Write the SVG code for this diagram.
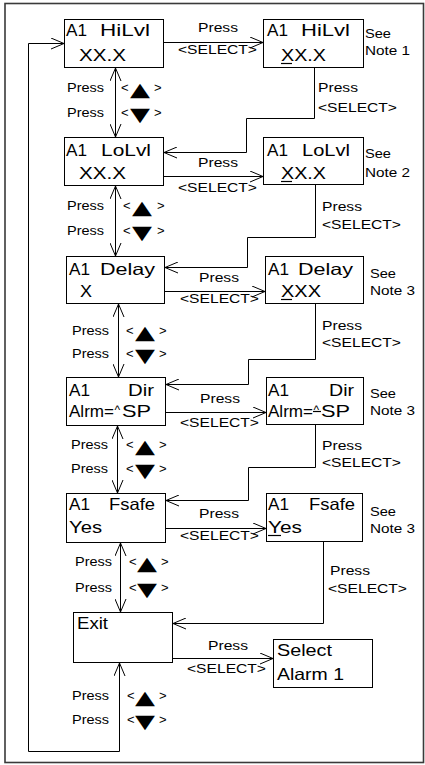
<svg xmlns="http://www.w3.org/2000/svg" width="425" height="765" viewBox="0 0 425 765">
<style>
.b{fill:#fff;stroke:#000;stroke-width:1}
.t{font-family:"Liberation Sans",Arial,sans-serif;font-size:16.5px;fill:#000}
.l{font-family:"Liberation Sans",Arial,sans-serif;font-size:13px;fill:#000}
.k{font-family:"Liberation Sans",Arial,sans-serif;font-size:12px;fill:#000}
.tri{font-family:"DejaVu Sans",sans-serif;font-size:19px;fill:#000}
.c{fill:none;stroke:#000;stroke-width:1}
.u{stroke:#000;stroke-width:1.2}
</style>
<defs>
<marker id="a" viewBox="0 0 13 12" refX="13" refY="6" markerWidth="13" markerHeight="12" orient="auto-start-reverse" markerUnits="userSpaceOnUse"><path d="M0,0.5 L13,6 L0,11.5" fill="none" stroke="#000" stroke-width="1"/></marker>
</defs>
<rect x="5" y="3.5" width="418.5" height="759" fill="#fff" stroke="#3a3a3a" stroke-width="1.6"/>

<g id="connectors">
<path class="c" d="M163.5,42.5 H263" marker-end="url(#a)"/>
<path class="c" d="M163.5,176.5 H263" marker-end="url(#a)"/>
<path class="c" d="M164.5,291.5 H265" marker-end="url(#a)"/>
<path class="c" d="M165.5,412.5 H266" marker-end="url(#a)"/>
<path class="c" d="M165.5,528.5 H266" marker-end="url(#a)"/>
<path class="c" d="M172.5,658.5 H273" marker-end="url(#a)"/>
<path class="c" d="M115.5,68 V137" marker-start="url(#a)" marker-end="url(#a)"/>
<path class="c" d="M115.5,186 V256" marker-start="url(#a)" marker-end="url(#a)"/>
<path class="c" d="M118.5,304 V377" marker-start="url(#a)" marker-end="url(#a)"/>
<path class="c" d="M117.5,426 V493" marker-start="url(#a)" marker-end="url(#a)"/>
<path class="c" d="M120.5,543 V612" marker-start="url(#a)" marker-end="url(#a)"/>
<path class="c" d="M314.5,67.5 V118.5 H246.5 V152.5 H164" marker-end="url(#a)"/>
<path class="c" d="M315.5,184.5 V237.5 H247.5 V267.5 H165" marker-end="url(#a)"/>
<path class="c" d="M315.5,303.5 V359.5 H248.5 V384.5 H166" marker-end="url(#a)"/>
<path class="c" d="M315.5,424.5 V467.5 H248.5 V500.5 H166" marker-end="url(#a)"/>
<path class="c" d="M323.5,541.5 V623.5 H173" marker-end="url(#a)"/>
<path class="c" d="M119.5,663 V751.5 H28.5 V43.5 H64" marker-start="url(#a)" marker-end="url(#a)"/>
</g>

<g id="labels">
<text class="l" x="198" y="32" textLength="40" lengthAdjust="spacingAndGlyphs">Press</text>
<text class="l" x="178" y="54" textLength="79" lengthAdjust="spacingAndGlyphs">&lt;SELECT&gt;</text>
<text class="l" x="198" y="167" textLength="40" lengthAdjust="spacingAndGlyphs">Press</text>
<text class="l" x="178" y="192" textLength="79" lengthAdjust="spacingAndGlyphs">&lt;SELECT&gt;</text>
<text class="l" x="199" y="282" textLength="40" lengthAdjust="spacingAndGlyphs">Press</text>
<text class="l" x="180" y="303" textLength="79" lengthAdjust="spacingAndGlyphs">&lt;SELECT&gt;</text>
<text class="l" x="200" y="403" textLength="40" lengthAdjust="spacingAndGlyphs">Press</text>
<text class="l" x="180" y="427" textLength="79" lengthAdjust="spacingAndGlyphs">&lt;SELECT&gt;</text>
<text class="l" x="199" y="518" textLength="40" lengthAdjust="spacingAndGlyphs">Press</text>
<text class="l" x="180" y="540" textLength="79" lengthAdjust="spacingAndGlyphs">&lt;SELECT&gt;</text>
<text class="l" x="208" y="650" textLength="40" lengthAdjust="spacingAndGlyphs">Press</text>
<text class="l" x="187" y="673" textLength="79" lengthAdjust="spacingAndGlyphs">&lt;SELECT&gt;</text>

<text class="l" x="318" y="92" textLength="40" lengthAdjust="spacingAndGlyphs">Press</text>
<text class="l" x="318" y="112" textLength="79" lengthAdjust="spacingAndGlyphs">&lt;SELECT&gt;</text>
<text class="l" x="322" y="211" textLength="40" lengthAdjust="spacingAndGlyphs">Press</text>
<text class="l" x="322" y="229" textLength="79" lengthAdjust="spacingAndGlyphs">&lt;SELECT&gt;</text>
<text class="l" x="322" y="330" textLength="40" lengthAdjust="spacingAndGlyphs">Press</text>
<text class="l" x="322" y="347" textLength="79" lengthAdjust="spacingAndGlyphs">&lt;SELECT&gt;</text>
<text class="l" x="322" y="450" textLength="40" lengthAdjust="spacingAndGlyphs">Press</text>
<text class="l" x="322" y="467" textLength="79" lengthAdjust="spacingAndGlyphs">&lt;SELECT&gt;</text>
<text class="l" x="330" y="575" textLength="40" lengthAdjust="spacingAndGlyphs">Press</text>
<text class="l" x="328" y="593" textLength="79" lengthAdjust="spacingAndGlyphs">&lt;SELECT&gt;</text>

<text class="l" x="365" y="38" textLength="26" lengthAdjust="spacingAndGlyphs">See</text>
<text class="l" x="365" y="55" textLength="45" lengthAdjust="spacingAndGlyphs">Note 1</text>
<text class="l" x="365" y="158" textLength="26" lengthAdjust="spacingAndGlyphs">See</text>
<text class="l" x="365" y="177" textLength="45" lengthAdjust="spacingAndGlyphs">Note 2</text>
<text class="l" x="370" y="278" textLength="26" lengthAdjust="spacingAndGlyphs">See</text>
<text class="l" x="370" y="295" textLength="45" lengthAdjust="spacingAndGlyphs">Note 3</text>
<text class="l" x="370" y="398" textLength="26" lengthAdjust="spacingAndGlyphs">See</text>
<text class="l" x="370" y="415" textLength="45" lengthAdjust="spacingAndGlyphs">Note 3</text>
<text class="l" x="370" y="516" textLength="26" lengthAdjust="spacingAndGlyphs">See</text>
<text class="l" x="370" y="533" textLength="45" lengthAdjust="spacingAndGlyphs">Note 3</text>

<text class="l" x="67" y="92" textLength="37" lengthAdjust="spacingAndGlyphs">Press</text>
<text class="l" x="67" y="117" textLength="37" lengthAdjust="spacingAndGlyphs">Press</text>
<text class="l" x="121" y="92">&lt;</text><text class="tri" x="130" y="96" textLength="20" lengthAdjust="spacingAndGlyphs">▲</text><text class="l" x="154" y="92">&gt;</text>
<text class="l" x="121" y="117">&lt;</text><text class="tri" x="130" y="121" textLength="20" lengthAdjust="spacingAndGlyphs">▼</text><text class="l" x="154" y="117">&gt;</text>

<text class="l" x="67" y="210" textLength="37" lengthAdjust="spacingAndGlyphs">Press</text>
<text class="l" x="67" y="235" textLength="37" lengthAdjust="spacingAndGlyphs">Press</text>
<text class="l" x="123" y="210">&lt;</text><text class="tri" x="132" y="214" textLength="20" lengthAdjust="spacingAndGlyphs">▲</text><text class="l" x="157" y="210">&gt;</text>
<text class="l" x="123" y="235">&lt;</text><text class="tri" x="132" y="239" textLength="20" lengthAdjust="spacingAndGlyphs">▼</text><text class="l" x="157" y="235">&gt;</text>

<text class="l" x="72" y="335" textLength="37" lengthAdjust="spacingAndGlyphs">Press</text>
<text class="l" x="72" y="358" textLength="37" lengthAdjust="spacingAndGlyphs">Press</text>
<text class="l" x="126" y="335">&lt;</text><text class="tri" x="135" y="339" textLength="20" lengthAdjust="spacingAndGlyphs">▲</text><text class="l" x="159" y="335">&gt;</text>
<text class="l" x="126" y="358">&lt;</text><text class="tri" x="135" y="362" textLength="20" lengthAdjust="spacingAndGlyphs">▼</text><text class="l" x="159" y="358">&gt;</text>

<text class="l" x="71" y="449" textLength="37" lengthAdjust="spacingAndGlyphs">Press</text>
<text class="l" x="71" y="473" textLength="37" lengthAdjust="spacingAndGlyphs">Press</text>
<text class="l" x="126" y="449">&lt;</text><text class="tri" x="135" y="453" textLength="20" lengthAdjust="spacingAndGlyphs">▲</text><text class="l" x="159" y="449">&gt;</text>
<text class="l" x="126" y="473">&lt;</text><text class="tri" x="135" y="477" textLength="20" lengthAdjust="spacingAndGlyphs">▼</text><text class="l" x="159" y="473">&gt;</text>

<text class="l" x="75" y="566" textLength="37" lengthAdjust="spacingAndGlyphs">Press</text>
<text class="l" x="75" y="592" textLength="37" lengthAdjust="spacingAndGlyphs">Press</text>
<text class="l" x="129" y="566">&lt;</text><text class="tri" x="137" y="570" textLength="20" lengthAdjust="spacingAndGlyphs">▲</text><text class="l" x="161" y="566">&gt;</text>
<text class="l" x="129" y="592">&lt;</text><text class="tri" x="137" y="596" textLength="20" lengthAdjust="spacingAndGlyphs">▼</text><text class="l" x="161" y="592">&gt;</text>

<text class="l" x="72" y="700" textLength="37" lengthAdjust="spacingAndGlyphs">Press</text>
<text class="l" x="72" y="724" textLength="37" lengthAdjust="spacingAndGlyphs">Press</text>
<text class="l" x="127" y="700">&lt;</text><text class="tri" x="135" y="704" textLength="20" lengthAdjust="spacingAndGlyphs">▲</text><text class="l" x="159" y="700">&gt;</text>
<text class="l" x="127" y="724">&lt;</text><text class="tri" x="135" y="728" textLength="20" lengthAdjust="spacingAndGlyphs">▼</text><text class="l" x="159" y="724">&gt;</text>
</g>

<g id="n1"><rect class="b" x="64.5" y="19.5" width="99" height="48"/>
<text class="t" x="66" y="36" textLength="21" lengthAdjust="spacingAndGlyphs">A1</text>
<text class="t" x="100" y="36" textLength="50" lengthAdjust="spacingAndGlyphs">HiLvl</text>
<text class="t" x="79" y="61" textLength="47" lengthAdjust="spacingAndGlyphs">XX.X</text></g>

<g id="n2"><rect class="b" x="263.5" y="19.5" width="100" height="48"/>
<text class="t" x="267" y="36" textLength="21" lengthAdjust="spacingAndGlyphs">A1</text>
<text class="t" x="301" y="36" textLength="49" lengthAdjust="spacingAndGlyphs">HiLvl</text>
<text class="t" x="281" y="61" textLength="45" lengthAdjust="spacingAndGlyphs">XX.X</text>
<line class="u" x1="281" y1="63.5" x2="292" y2="63.5"/></g>

<g id="n3"><rect class="b" x="64.5" y="137.5" width="99" height="48"/>
<text class="t" x="66" y="156" textLength="21" lengthAdjust="spacingAndGlyphs">A1</text>
<text class="t" x="101" y="156" textLength="50" lengthAdjust="spacingAndGlyphs">LoLvl</text>
<text class="t" x="79" y="179" textLength="47" lengthAdjust="spacingAndGlyphs">XX.X</text></g>

<g id="n4"><rect class="b" x="263.5" y="137.5" width="100" height="47"/>
<text class="t" x="267" y="156" textLength="21" lengthAdjust="spacingAndGlyphs">A1</text>
<text class="t" x="302" y="156" textLength="48" lengthAdjust="spacingAndGlyphs">LoLvl</text>
<text class="t" x="281" y="179" textLength="45" lengthAdjust="spacingAndGlyphs">XX.X</text>
<line class="u" x1="281" y1="181.5" x2="292" y2="181.5"/></g>

<g id="n5"><rect class="b" x="66.5" y="256.5" width="98" height="47"/>
<text class="t" x="69" y="275" textLength="21" lengthAdjust="spacingAndGlyphs">A1</text>
<text class="t" x="100" y="275" textLength="55" lengthAdjust="spacingAndGlyphs">Delay</text>
<text class="t" x="80" y="297" textLength="12" lengthAdjust="spacingAndGlyphs">X</text></g>

<g id="n6"><rect class="b" x="265.5" y="256.5" width="98" height="47"/>
<text class="t" x="268" y="275" textLength="21" lengthAdjust="spacingAndGlyphs">A1</text>
<text class="t" x="298" y="275" textLength="55" lengthAdjust="spacingAndGlyphs">Delay</text>
<text class="t" x="281" y="297" textLength="40" lengthAdjust="spacingAndGlyphs">XXX</text>
<line class="u" x1="281" y1="299.5" x2="292" y2="299.5"/></g>

<g id="n7"><rect class="b" x="66.5" y="377.5" width="99" height="48"/>
<text class="t" x="69" y="396" textLength="21" lengthAdjust="spacingAndGlyphs">A1</text>
<text class="t" x="128" y="396" textLength="26" lengthAdjust="spacingAndGlyphs">Dir</text>
<text class="t" x="69" y="417" textLength="45" lengthAdjust="spacingAndGlyphs">Alrm=</text>
<text class="k" x="114.5" y="414">^</text>
<text class="t" x="122" y="417" textLength="29" lengthAdjust="spacingAndGlyphs">SP</text></g>

<g id="n8"><rect class="b" x="266.5" y="377.5" width="97" height="47"/>
<text class="t" x="268" y="396" textLength="21" lengthAdjust="spacingAndGlyphs">A1</text>
<text class="t" x="329" y="396" textLength="25" lengthAdjust="spacingAndGlyphs">Dir</text>
<text class="t" x="268" y="417" textLength="45" lengthAdjust="spacingAndGlyphs">Alrm=</text>
<text class="k" x="313.5" y="414">^</text>
<line class="u" x1="313" y1="411.5" x2="321" y2="411.5"/>
<text class="t" x="321" y="417" textLength="29" lengthAdjust="spacingAndGlyphs">SP</text></g>

<g id="n9"><rect class="b" x="66.5" y="493.5" width="99" height="49"/>
<text class="t" x="69" y="510" textLength="21" lengthAdjust="spacingAndGlyphs">A1</text>
<text class="t" x="109" y="510" textLength="46" lengthAdjust="spacingAndGlyphs">Fsafe</text>
<text class="t" x="69" y="533" textLength="33" lengthAdjust="spacingAndGlyphs">Yes</text></g>

<g id="n10"><rect class="b" x="266.5" y="493.5" width="96" height="48"/>
<text class="t" x="268" y="510" textLength="21" lengthAdjust="spacingAndGlyphs">A1</text>
<text class="t" x="309" y="510" textLength="46" lengthAdjust="spacingAndGlyphs">Fsafe</text>
<text class="t" x="268" y="533" textLength="34" lengthAdjust="spacingAndGlyphs">Yes</text>
<line class="u" x1="268" y1="535.5" x2="281" y2="535.5"/></g>

<g id="n11"><rect class="b" x="73.5" y="612.5" width="99" height="50"/>
<text class="t" x="77" y="629" textLength="31" lengthAdjust="spacingAndGlyphs">Exit</text></g>

<g id="n12"><rect class="b" x="273.5" y="639.5" width="99" height="48"/>
<text class="t" x="277" y="656" textLength="55" lengthAdjust="spacingAndGlyphs">Select</text>
<text class="t" x="277" y="680" textLength="67" lengthAdjust="spacingAndGlyphs">Alarm 1</text></g>
</svg>
